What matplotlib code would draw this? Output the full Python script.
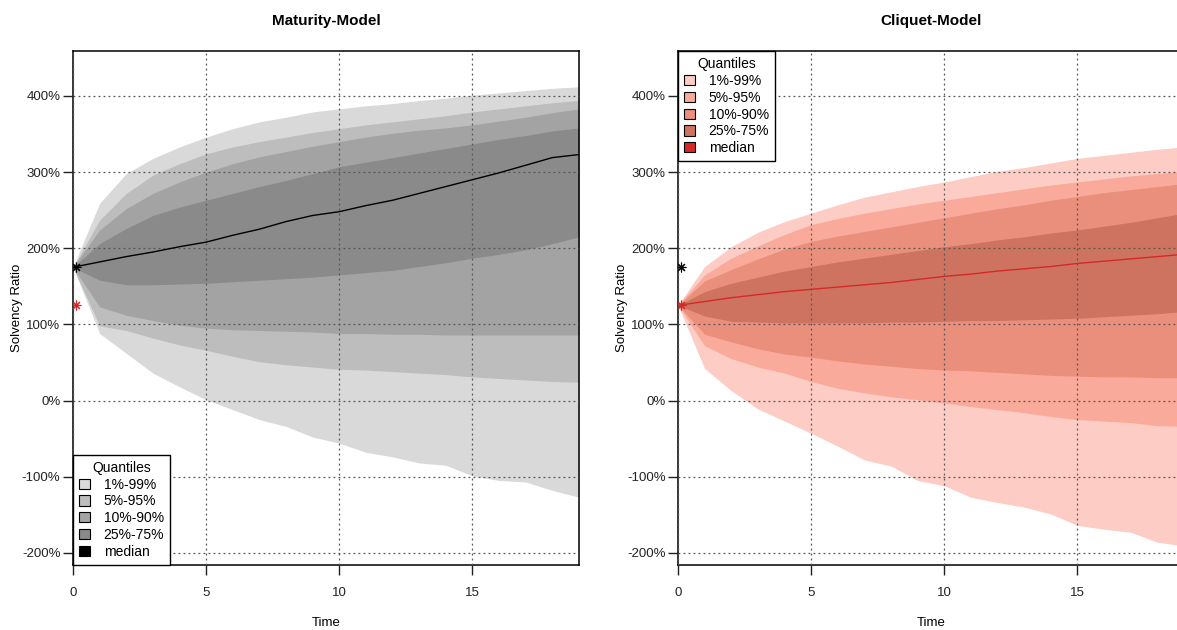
import matplotlib
matplotlib.use("Agg")
import matplotlib.pyplot as plt
from matplotlib.patches import Patch
from matplotlib.ticker import FuncFormatter

plt.rcParams['font.family'] = ['Liberation Sans', 'DejaVu Sans']

t = list(range(20))

# Maturity-Model quantiles (in %)
mat_q01 = [175, 88, 62, 36, 18, 1, -12, -25, -34, -48, -56, -68, -74, -82, -85, -99, -105, -107, -118, -127]
mat_q05 = [175, 98, 92, 82, 73, 66, 58, 51, 47, 44, 41, 40, 38, 36, 34, 31, 29, 27, 25, 24]
mat_q10 = [175, 123, 112, 105, 99, 95, 93, 92, 91, 90, 88, 88, 87, 87, 86, 86, 86, 86, 86, 86]
mat_q25 = [175, 158, 152, 152, 153, 154, 156, 158, 160, 162, 165, 168, 171, 176, 181, 187, 192, 198, 206, 215]
mat_med = [175, 182, 189, 195, 202, 208, 217, 225, 235, 243, 248, 256, 263, 272, 281, 290, 299, 309, 319, 323]
mat_q75 = [175, 206, 226, 243, 254, 263, 272, 281, 289, 298, 307, 313, 319, 325, 331, 337, 343, 348, 354, 358]
mat_q90 = [175, 224, 252, 272, 287, 300, 311, 320, 327, 334, 340, 346, 351, 355, 358, 362, 367, 372, 378, 383]
mat_q95 = [175, 237, 272, 296, 311, 324, 333, 340, 346, 352, 357, 362, 366, 370, 374, 379, 383, 387, 391, 394]
mat_q99 = [175, 259, 298, 318, 333, 346, 357, 366, 372, 379, 383, 387, 390, 394, 397, 401, 404, 407, 410, 412]

# Cliquet-Model quantiles (in %)
cli_q01 = [125, 42, 13, -11, -27, -43, -60, -78, -86, -105, -112, -127, -134, -140, -149, -164, -169, -173, -186, -191]
cli_q05 = [125, 72, 55, 44, 36, 25, 16, 10, 5, 1, -3, -8, -12, -16, -21, -25, -27, -29, -33, -34]
cli_q10 = [125, 87, 77, 68, 61, 57, 52, 48, 45, 42, 40, 39, 37, 35, 33, 32, 31, 31, 30, 30]
cli_q25 = [125, 111, 104, 103, 102, 102, 102, 102, 103, 103, 104, 105, 105, 106, 107, 108, 110, 112, 114, 117]
cli_med = [125, 130, 135, 139, 143, 146, 149, 152, 155, 159, 163, 166, 170, 173, 176, 180, 183, 186, 189, 192]
cli_q75 = [125, 143, 154, 162, 170, 176, 182, 187, 192, 197, 202, 206, 211, 215, 220, 224, 229, 234, 240, 246]
cli_q90 = [125, 157, 172, 186, 199, 209, 216, 222, 228, 234, 240, 246, 252, 257, 263, 268, 273, 277, 281, 285]
cli_q95 = [125, 165, 187, 203, 218, 231, 239, 246, 252, 258, 263, 268, 273, 278, 283, 287, 291, 295, 298, 301]
cli_q99 = [125, 176, 202, 221, 235, 246, 257, 267, 274, 281, 287, 294, 301, 306, 312, 318, 322, 326, 330, 333]

band_labels = ["1%-99%", "5%-95%", "10%-90%", "25%-75%", "median"]
grey_cols = ["#d9d9d9", "#bdbdbd", "#a3a3a3", "#8a8a8a", "#000000"]
red_cols = ["#fdccc4", "#f9aa9a", "#eb8f7d", "#cf7361", "#d42a26"]

start_mat = 175
start_cli = 125

fig = plt.figure(figsize=(11.77, 6.3), dpi=100)
ax1 = fig.add_axes([73/1177, 1 - 565/630, 506/1177, 514/630])
ax2 = fig.add_axes([678/1177, 1 - 565/630, 506/1177, 514/630])


def fan(ax, lows, highs, med, cols, title, other_start, other_col, legloc):
    for lo, hi, c in zip(lows, highs, cols[:4]):
        ax.fill_between(t, lo, hi, color=c, linewidth=0, zorder=1)
    ax.plot(t, med, color=cols[4], lw=1, zorder=3)
    ax.plot([0.1], [med[0]], marker=(8, 2, 0), color=cols[4], ms=7, mew=0.8, zorder=4)
    ax.plot([0.1], [other_start], marker=(8, 2, 0), color=other_col, ms=7, mew=0.8, zorder=4)
    ax.set_xlim(0, 19)
    ax.set_ylim(-216, 459)
    ax.set_xticks([0, 5, 10, 15])
    ax.set_yticks([-200, -100, 0, 100, 200, 300, 400])
    ax.yaxis.set_major_formatter(FuncFormatter(lambda v, p: "%d%%" % v))
    ax.set_axisbelow(False)
    ax.grid(True, color="#555555", linestyle=(0, (1.5, 2.5)), linewidth=0.9)
    ax.tick_params(labelsize=9.5, length=7, width=1, colors="#222222", pad=2)
    ax.tick_params(axis="x", pad=9)
    for s in ax.spines.values():
        s.set_linewidth(1.1)
    ax.set_title(title, fontsize=11, fontweight="bold", pad=19)
    ax.set_xlabel("Time", fontsize=9.5, labelpad=13)
    ax.set_ylabel("Solvency Ratio", fontsize=9.5)
    ax.yaxis.set_label_coords(-50 / 506, 0.5)
    handles = [Patch(facecolor=c, edgecolor="black", linewidth=0.8) for c in cols]
    leg = ax.legend(handles, band_labels, title="Quantiles", loc=legloc,
                    fontsize=10, title_fontsize=10, fancybox=False, framealpha=1,
                    edgecolor="black", borderaxespad=0, handlelength=0.75,
                    handleheight=0.75, handletextpad=1.0, labelspacing=0.2,
                    borderpad=0.45)
    leg.get_frame().set_linewidth(1.0)
    leg.set_zorder(5)


fan(ax1, [mat_q01, mat_q05, mat_q10, mat_q25], [mat_q99, mat_q95, mat_q90, mat_q75],
    mat_med, grey_cols, "Maturity-Model", start_cli, "#d42a26", "lower left")
fan(ax2, [cli_q01, cli_q05, cli_q10, cli_q25], [cli_q99, cli_q95, cli_q90, cli_q75],
    cli_med, red_cols, "Cliquet-Model", start_mat, "#000000", "upper left")

fig.savefig("out.png", dpi=100)
